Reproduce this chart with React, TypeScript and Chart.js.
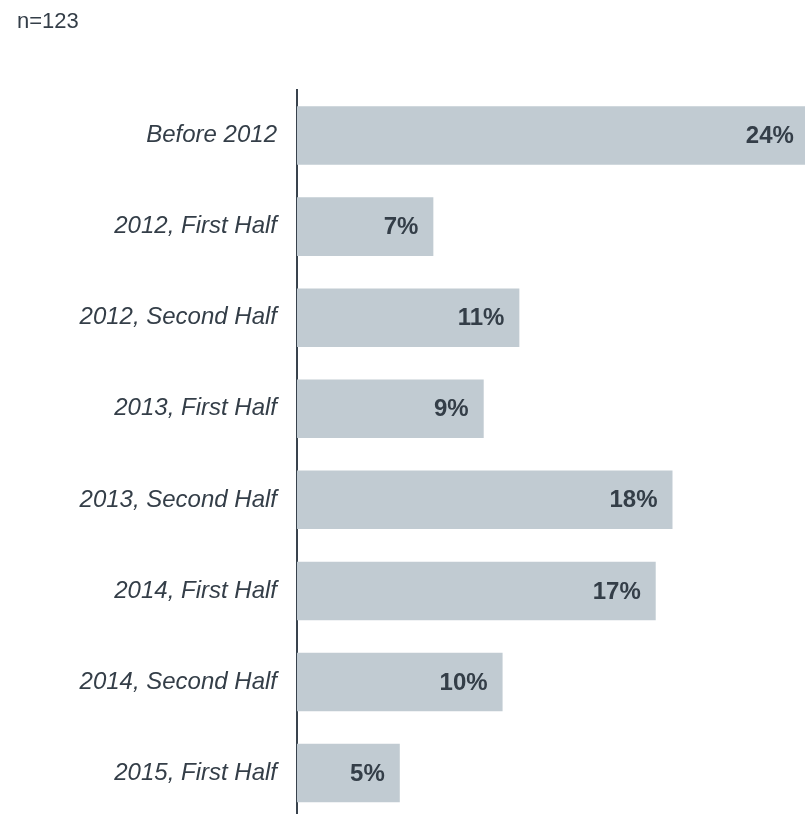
import React, { useEffect, useRef } from "react";
import { Chart, registerables } from "chart.js";

Chart.register(...registerables);

const categories = [
  "Before 2012",
  "2012, First Half",
  "2012, Second Half",
  "2013, First Half",
  "2013, Second Half",
  "2014, First Half",
  "2014, Second Half",
  "2015, First Half",
];

const shares = [24.4, 6.5, 10.6, 8.9, 17.9, 17.1, 9.8, 4.9];

const sampleNote = "n=123";

const FONT = "'Liberation Sans', Arial, Helvetica, sans-serif";
const TEXT = "#343e48";
const BAR = "#c1cbd2";
const AXIS = "#39434d";

export default function App() {
  const ref = useRef<HTMLCanvasElement | null>(null);

  useEffect(() => {
    if (!ref.current) return;

    const valueLabels = {
      id: "valueLabels",
      afterDatasetsDraw(chart: any) {
        const ctx = chart.ctx;
        const meta = chart.getDatasetMeta(0);
        ctx.save();
        ctx.font = `bold 24px ${FONT}`;
        ctx.fillStyle = TEXT;
        ctx.textAlign = "right";
        ctx.textBaseline = "middle";
        meta.data.forEach((bar: any, i: number) => {
          const v = shares[i];
          ctx.fillText(`${Math.round(v)}%`, bar.x - 15, bar.y + 1);
        });
        ctx.restore();
      },
    };

    const note = {
      id: "note",
      afterDraw(chart: any) {
        const ctx = chart.ctx;
        ctx.save();
        ctx.font = `22px ${FONT}`;
        ctx.fillStyle = TEXT;
        ctx.textAlign = "left";
        ctx.textBaseline = "alphabetic";
        ctx.fillText(sampleNote, 17, 28);
        ctx.restore();
      },
    };

    const chart = new Chart(ref.current, {
      type: "bar",
      data: {
        labels: categories,
        datasets: [
          {
            data: shares,
            backgroundColor: BAR,
            borderWidth: 0,
            barPercentage: 0.643,
            categoryPercentage: 1,
          },
        ],
      },
      options: {
        indexAxis: "y",
        animation: false,
        responsive: false,
        maintainAspectRatio: false,
        layout: { padding: { top: 90, bottom: 12, left: 0, right: 0 } },
        plugins: {
          legend: { display: false },
          tooltip: { enabled: false },
          title: { display: false },
        },
        scales: {
          x: {
            display: false,
            min: 0,
            max: 24.55,
          },
          y: {
            grid: { display: false, drawTicks: false },
            border: { display: true, color: AXIS, width: 2 },
            ticks: {
              color: TEXT,
              padding: 20,
              font: { family: FONT, size: 24, style: "italic" },
            },
            afterFit(scale: any) {
              scale.width = 297;
            },
          },
        },
      },
      plugins: [valueLabels, note],
    });

    return () => chart.destroy();
  }, []);

  return (
    <div
      style={{
        position: "absolute",
        left: 0,
        top: 0,
        width: 805,
        height: 814,
        overflow: "hidden",
        background: "#ffffff",
      }}
    >
      <canvas ref={ref} width={812} height={853} style={{ display: "block" }} />
    </div>
  );
}
